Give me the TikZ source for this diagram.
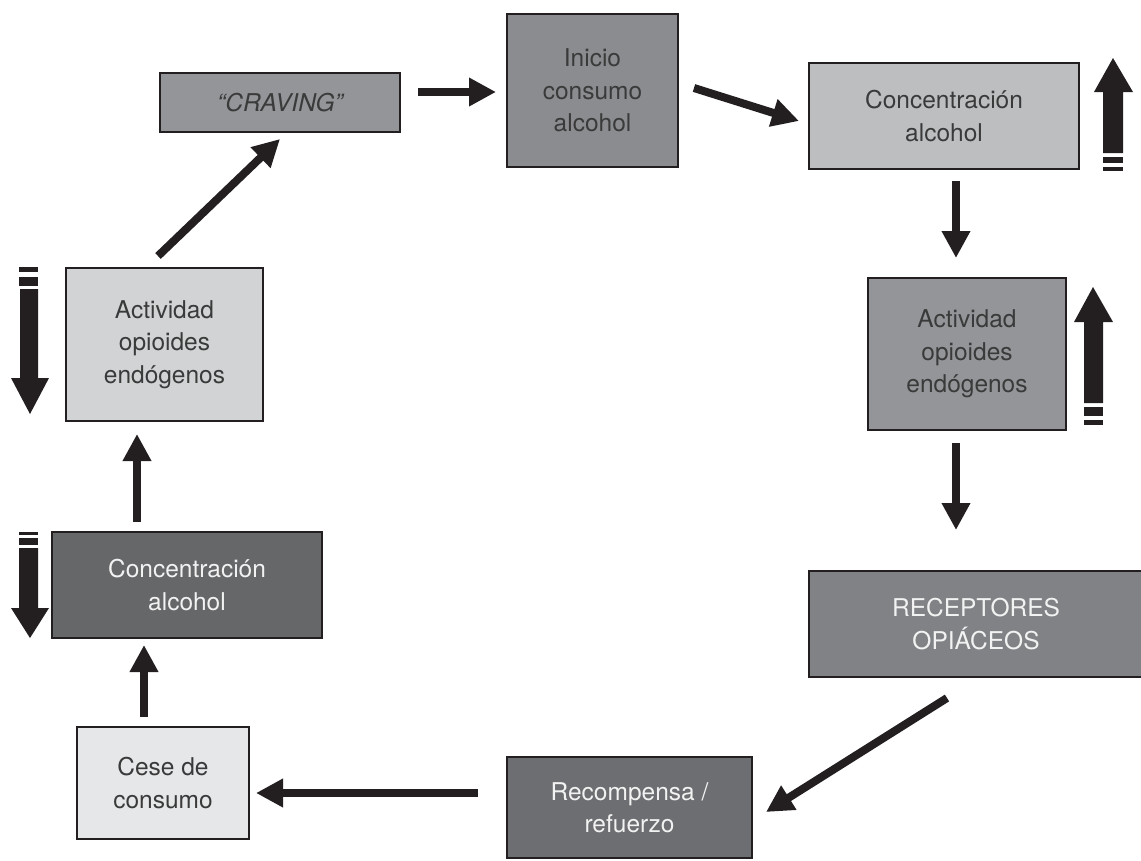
\documentclass[tikz,border=0pt]{standalone}
\usepackage{fontspec}
\setmainfont{TeX Gyre Heros}
\usetikzlibrary{arrows.meta}
\definecolor{ink}{HTML}{231F20}
\definecolor{txtdark}{HTML}{3A3A3A}
\definecolor{txtlight}{HTML}{F2F2F2}
\definecolor{gA}{HTML}{939598}
\definecolor{gB}{HTML}{8A8C8F}
\definecolor{gC}{HTML}{BCBEC0}
\definecolor{gD}{HTML}{808285}
\definecolor{gE}{HTML}{6D6E71}
\definecolor{gF}{HTML}{E6E7E8}
\definecolor{gG}{HTML}{666769}
\definecolor{gH}{HTML}{D1D3D4}
\tikzset{
  box/.style={draw=ink, line width=1.2pt, align=center, inner sep=0pt,
    font=\fontsize{24.5}{32.5}\selectfont},
  darktext/.style={text=txtdark},
  lighttext/.style={text=txtlight},
  arr/.style={draw=ink, line width=8pt, -{Triangle[length=27pt,width=27pt]}},
  blk/.style={fill=ink, draw=none}
}
\begin{document}
\begin{tikzpicture}[x=1pt,y=-1pt]
\useasboundingbox (0,0) rectangle (1141,860);
% boxes
\node[box,darktext,fill=gA,minimum width=240pt,minimum height=59pt] (crav) at (280,102.5) {\itshape ``CRAVING''};
\node[box,darktext,fill=gB,minimum width=171pt,minimum height=153pt] (ini) at (592.5,90.5) {Inicio\\consumo\\alcohol};
\node[box,darktext,fill=gC,minimum width=270pt,minimum height=106pt] (concTR) at (944,116) {Concentración\\alcohol};
\node[box,darktext,fill=gA,minimum width=198pt,minimum height=152pt] (actR) at (967,354) {Actividad\\opioides\\endógenos};
\node[box,lighttext,fill=gD,minimum width=334pt,minimum height=106pt] (rec) at (976,624) {RECEPTORES\\OPIÁCEOS};
\node[box,lighttext,fill=gE,minimum width=245pt,minimum height=101pt] (recomp) at (629.5,807.5) {Recompensa /\\refuerzo};
\node[box,darktext,fill=gF,minimum width=172pt,minimum height=112pt] (cese) at (163,783) {Cese de\\consumo};
\node[box,lighttext,fill=gG,minimum width=270pt,minimum height=106pt] (concL) at (187,585) {Concentración\\alcohol};
\node[box,darktext,fill=gH,minimum width=197pt,minimum height=153pt] (actL) at (164.5,344.5) {Actividad\\opioides\\endógenos};
% connector end points
\coordinate (c1s) at (418,92);  \coordinate (c1e) at (496,92);
\coordinate (c2s) at (694,88);  \coordinate (c2e) at (799,121);
\coordinate (c3s) at (956,181); \coordinate (c3e) at (956,258);
\coordinate (c4s) at (956,443); \coordinate (c4e) at (956,530);
\coordinate (c5s) at (947,698); \coordinate (c5e) at (766,812);
\coordinate (c6s) at (478,793); \coordinate (c6e) at (256,793);
\coordinate (c7s) at (144,717); \coordinate (c7e) at (144,645);
\coordinate (c8s) at (137,522); \coordinate (c8e) at (137,434);
\coordinate (c9s) at (158,256); \coordinate (c9e) at (280,139);
\draw[arr] (c1s) -- (c1e);
\draw[arr] (c2s) -- (c2e);
\draw[arr] (c3s) -- (c3e);
\draw[arr] (c4s) -- (c4e);
\draw[arr] (c5s) -- (c5e);
\draw[arr] (c6s) -- (c6e);
\draw[arr] (c7s) -- (c7e);
\draw[arr] (c8s) -- (c8e);
\draw[arr] (c9s) -- (c9e);
% big block arrows (up, right top)
\fill[blk] (1113,58) -- (1133,92) -- (1123,92) -- (1123,153) -- (1103,153) -- (1103,92) -- (1094,92) -- cycle;
\fill[blk] (1103,157) rectangle (1123,163);
\fill[blk] (1103,167) rectangle (1123,171);
% big block arrow (up, right middle)
\fill[blk] (1093,287) -- (1113,322) -- (1103,322) -- (1103,403) -- (1084,403) -- (1084,322) -- (1074,322) -- cycle;
\fill[blk] (1084,407) rectangle (1103,416);
\fill[blk] (1084,420) rectangle (1103,425);
% big block arrow (down, left upper)
\fill[blk] (19,267) rectangle (38,272);
\fill[blk] (19,277) rectangle (38,286);
\fill[blk] (20,289) -- (38,289) -- (38,378) -- (49,378) -- (30,414) -- (11,378) -- (20,378) -- cycle;
% big block arrow (down, left lower)
\fill[blk] (19,532) rectangle (38,535);
\fill[blk] (19,538) rectangle (38,545);
\fill[blk] (19,548) -- (38,548) -- (38,608) -- (49,608) -- (30,638) -- (11,608) -- (19,608) -- cycle;
\end{tikzpicture}
\end{document}
